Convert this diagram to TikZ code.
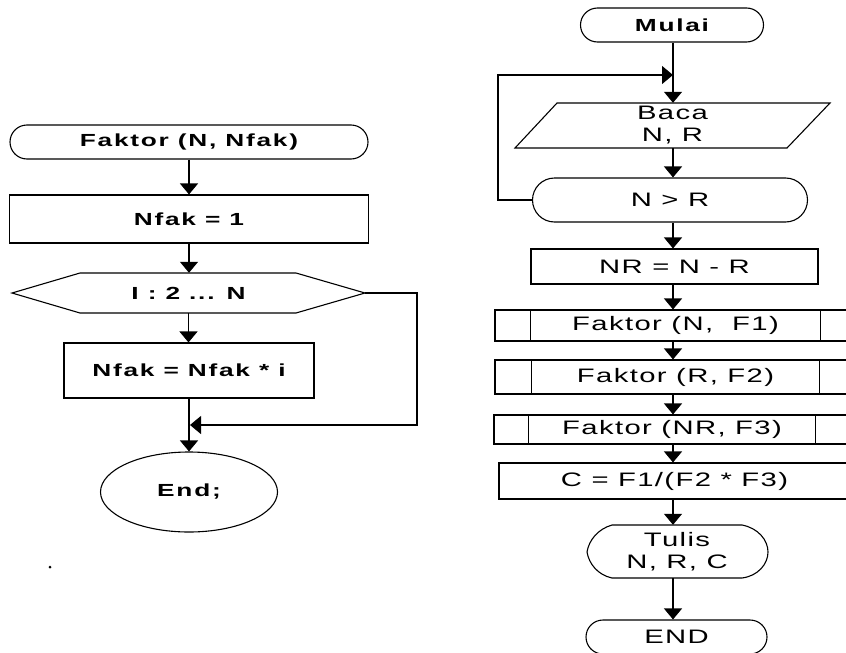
\documentclass[tikz,border=0pt]{standalone}
\usepackage{fontspec}
\setmainfont{Liberation Sans}
\newfontfamily\lfont{Liberation Sans}[FakeStretch=1.5, LetterSpace=10]
\newfontfamily\rfont{Liberation Sans}[FakeStretch=1.5, LetterSpace=7]
\usetikzlibrary{arrows.meta,shapes.geometric}
\tikzset{
  line/.style={line width=1.1pt, draw=black},
  flow/.style={line width=1.1pt, draw=black, -{Triangle[width=18pt,length=11pt]}},
  box/.style={line, rectangle, inner sep=0pt},
  ghost/.style={rectangle, inner sep=0pt},
  stad/.style={line, rectangle, rounded corners=#1, inner sep=0pt},
  lbl/.style={font=\lfont\fontsize{17.5}{21}\selectfont\bfseries, align=center},
  rlbl/.style={font=\rfont\fontsize{19.5}{22}\selectfont, align=center},
}
\begin{document}
\begin{tikzpicture}[x=1pt,y=-1pt]
\useasboundingbox (0,0) rectangle (846,653);
\clip (0,0) rectangle (846,653);
\fill[white] (0,0) rectangle (846,653);

% ---------------- left flowchart ----------------
\node[stad=17pt, lbl, minimum width=358pt, minimum height=34pt] (f0) at (189,142) {Faktor (N, Nfak)};
\node[box, lbl, minimum width=359pt, minimum height=48pt] (b1) at (189,219) {Nfak = 1};
\draw[line] (12,293) -- (80,273) -- (296,273) -- (365,293) -- (296,313) -- (80,313) -- cycle;
\node[ghost, lbl, minimum width=353pt, minimum height=40pt] (hx) at (188.5,293) {I : 2 ... N};
\node[box, lbl, minimum width=250pt, minimum height=55pt] (b2) at (189,370.5) {Nfak = Nfak * i};
\node[line, ellipse, lbl, inner sep=0pt, minimum width=177pt, minimum height=80pt] (e) at (189,492) {End;};

\coordinate (lc) at (417,425);
\coordinate (lj) at (190,425);

\draw[flow] (f0.south) -- (f0.south |- b1.north);
\draw[flow] (b1.south) -- (b1.south |- hx.north);
\draw[flow] (hx.south) -- (hx.south |- b2.north);
\draw[flow] (b2.south) -- (b2.south |- e.north);
\draw[flow] (hx.east) -| (lc) -- (lj);

\fill (50,567) circle (1.5pt);

% ---------------- right flowchart ----------------
\node[stad=17pt, lbl, minimum width=183pt, minimum height=34pt] (mulai) at (672,25) {Mulai};
\draw[line] (557,103) -- (830,103) -- (787,148) -- (515,148) -- cycle;
\node[ghost, rlbl, minimum width=272pt, minimum height=45pt] (baca) at (672.5,125.5) {Baca\\N, R};
\node[stad=22pt, rlbl, minimum width=275pt, minimum height=44pt] (nr1) at (670,200) {N > R};
\node[box, rlbl, minimum width=287pt, minimum height=35pt] (nr) at (674.5,266.5) {NR = N - R};
\node[box, rlbl, minimum width=361pt, minimum height=31pt] (f1) at (675.5,325.5) {Faktor (N,\ \ F1)};
\node[box, rlbl, minimum width=361pt, minimum height=34pt] (f2) at (675.5,377) {Faktor (R, F2)};
\node[box, rlbl, minimum width=356pt, minimum height=29pt] (f3) at (672,429.5) {Faktor (NR, F3)};
\node[box, rlbl, minimum width=351pt, minimum height=36pt] (c) at (674.5,481) {C = F1/(F2 * F3)};
\draw[line] (612,525) -- (742,525) .. controls (758,528) and (768,540) .. (768,552)
  .. controls (768,564) and (758,576) .. (742,578) -- (612,578)
  .. controls (598,575) and (589,564) .. (587,552)
  .. controls (589,540) and (598,529) .. (612,525) -- cycle;
\node[ghost, rlbl, minimum width=181pt, minimum height=53pt] (tulis) at (677,551.5) {Tulis\\N, R, C};
\node[stad=17pt, rlbl, minimum width=181pt, minimum height=34pt] (endr) at (676.5,637) {END};

% predefined-process side bars
\foreach \n/\g in {f1/36pt, f2/37pt, f3/35pt}{
  \draw[line] ([xshift=\g]\n.north west) -- ([xshift=\g]\n.south west);
  \draw[line] ([xshift=-\g]\n.north east) -- ([xshift=-\g]\n.south east);
}

\coordinate (top) at (673,75);
\coordinate (lb) at (498,200);
\draw[line] (mulai.south -| top) -- (top);
\draw[flow] (top) -- (top |- baca.north);
\draw[flow] (nr1.west) -- (lb) |- (top);
\draw[flow] (top |- baca.south) -- (top |- nr1.north);
\draw[flow] (top |- nr1.south) -- (top |- nr.north);
\draw[flow] (top |- nr.south) -- (top |- f1.north);
\draw[flow] (top |- f1.south) -- (top |- f2.north);
\draw[flow] (top |- f2.south) -- (top |- f3.north);
\draw[flow] (top |- f3.south) -- (top |- c.north);
\draw[flow] (top |- c.south) -- (top |- tulis.north);
\draw[flow] (top |- tulis.south) -- (top |- endr.north);
\end{tikzpicture}
\end{document}
